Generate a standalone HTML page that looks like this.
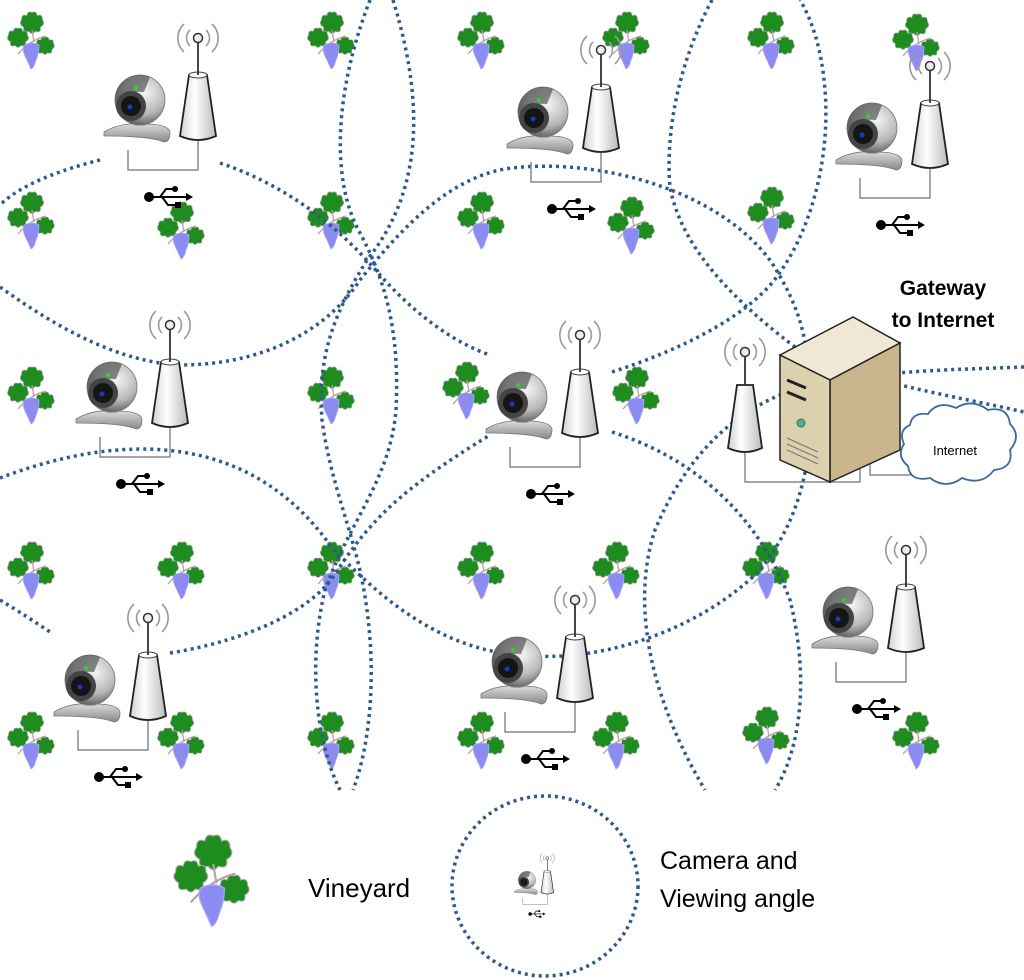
<!DOCTYPE html>
<html><head><meta charset="utf-8"><style>
html,body{margin:0;padding:0;background:#fff;}
svg{display:block;}
</style></head><body>
<svg width="1024" height="980" viewBox="0 0 1024 980" xmlns="http://www.w3.org/2000/svg">
<defs>
<radialGradient id="ball" cx="0.6" cy="0.35" r="0.7"><stop offset="0" stop-color="#f4f4f4"/><stop offset="0.6" stop-color="#b8b8b8"/><stop offset="1" stop-color="#555"/></radialGradient>
<linearGradient id="tow" x1="0" x2="1"><stop offset="0" stop-color="#d0d0d0"/><stop offset="0.4" stop-color="#fff"/><stop offset="1" stop-color="#bbb"/></linearGradient>
<linearGradient id="base" x1="0" x2="0" y1="0" y2="1"><stop offset="0" stop-color="#ddd"/><stop offset="1" stop-color="#888"/></linearGradient>
<path id="leaf" d="M0,-10 Q4,-12 5,-7 Q10,-9 10,-3 Q13,1 8,4 Q9,10 3,8 Q0,12 -3,8 Q-9,10 -8,4 Q-13,1 -10,-3 Q-10,-9 -5,-7 Q-4,-12 0,-10z" fill="#1e8c1e" stroke="#aaa" stroke-width="0.7"/>
<g id="vine">
<use href="#leaf" transform="translate(2,-17) scale(1.05)"/>
<use href="#leaf" transform="translate(-12,-2) scale(0.95)"/>
<use href="#leaf" transform="translate(15,6) scale(0.85)"/>
<path d="M-12,14 Q0,0 16,-4 M2,-10 L4,2" stroke="#b9a0a0" stroke-width="1.3" fill="none"/>
<path d="M-6,5 Q2,1 9,5 Q9,14 6,20 Q4,28 1,29 Q-2,22 -5,16 Q-8,9 -6,5z" fill="#8c8cf0" stroke="#a8a8ff" stroke-width="0.8"/>
</g>
<g id="node">
<path d="M-36,32 Q-20,22 5,24 Q28,24 30,32 Q30,42 24,42 Q10,36 -36,36z" fill="url(#base)" stroke="#777" stroke-width="0.8"/>
<rect x="-6" y="20" width="12" height="6" fill="#bbb"/>
<circle cx="0" cy="0" r="25" fill="url(#ball)" stroke="#777" stroke-width="0.8"/>
<path d="M-25,-2 A25,25 0 0 1 10,-23 L4,-8 Q-12,-10 -25,2z" fill="#555" opacity="0.7"/>
<circle cx="-9" cy="6" r="15" fill="#444"/><circle cx="-9" cy="6" r="10" fill="#151515"/><circle cx="-10" cy="7" r="2.5" fill="#1838c8"/>
<circle cx="-4" cy="-12" r="2" fill="#2d2"/>
<path d="M-12,50 V70 H58 V40" fill="none" stroke="#888" stroke-width="1.5"/>
<path d="M49,-25 L67,-25 L76,36 Q58,44 40,36z" fill="url(#tow)" stroke="#222" stroke-width="1.8"/>
<ellipse cx="58" cy="-25" rx="9" ry="3" fill="#fff" stroke="#444" stroke-width="1"/>
<line x1="58" y1="-25" x2="58" y2="-58" stroke="#333" stroke-width="1.8"/>
<circle cx="58" cy="-62" r="4.5" fill="#eee" stroke="#333" stroke-width="1.5"/>
<path d="M50,-70 A11,11 0 0 0 50,-54 M66,-70 A11,11 0 0 1 66,-54 M44,-76 A19,19 0 0 0 44,-48 M72,-76 A19,19 0 0 1 72,-48" fill="none" stroke="#999" stroke-width="1.6"/>
<g transform="translate(30,97)">
<circle cx="-21" cy="0" r="5" fill="#000"/>
<path d="M-21,0 H18 M-10,0 L-4,-8 H4 M-8,0 L-2,8 H6" fill="none" stroke="#000" stroke-width="2"/>
<path d="M16,-4 L23,0 L16,4z" fill="#000"/>
<circle cx="5" cy="-8" r="3" fill="#000"/><rect x="5" y="5" width="6" height="6" fill="#000"/>
</g>
</g>
</defs>

<g>
<use href="#vine" x="30" y="40"/><use href="#vine" x="330" y="40"/><use href="#vine" x="480" y="40"/><use href="#vine" x="770" y="40"/>
<use href="#vine" x="30" y="220"/><use href="#vine" x="180" y="230"/><use href="#vine" x="330" y="220"/><use href="#vine" x="480" y="220"/><use href="#vine" x="630" y="225"/><use href="#vine" x="770" y="215"/>
<use href="#vine" x="30" y="395"/><use href="#vine" x="330" y="395"/><use href="#vine" x="465" y="390"/><use href="#vine" x="635" y="395"/>
<use href="#vine" x="30" y="570"/><use href="#vine" x="180" y="570"/><use href="#vine" x="330" y="570"/><use href="#vine" x="480" y="570"/><use href="#vine" x="615" y="570"/><use href="#vine" x="765" y="570"/>
<use href="#vine" x="30" y="740"/><use href="#vine" x="180" y="740"/><use href="#vine" x="330" y="740"/><use href="#vine" x="480" y="740"/><use href="#vine" x="615" y="740"/><use href="#vine" x="765" y="735"/><use href="#vine" x="915" y="740"/>
<use href="#vine" x="625" y="40"/><use href="#vine" x="915" y="42"/>
<use href="#vine" transform="translate(210,880) scale(1.6)"/>
</g>

<g fill="none" stroke="#2b5a8f" stroke-width="3.5" stroke-dasharray="3 4">
<path d="M100,160 C60,170 20,185 0,205"/>
<path d="M0,287 C60,330 120,362 180,365 C250,365 320,340 360,280 C400,230 450,175 512,168 C600,158 720,190 772,263 C795,300 808,330 810,390"/>
<path d="M0,478 C100,440 240,420 330,545 C390,610 450,650 520,655 C600,664 700,630 760,570 C800,520 814,460 810,390"/>
<path d="M220,163 C300,190 350,240 380,275 C420,320 460,345 490,355"/>
<path d="M612,432 C700,460 760,520 790,600 C810,680 800,750 775,790"/>
<path d="M393,0 C430,120 415,200 367,260 C330,320 318,360 322,420 C330,480 352,530 362,580 C378,660 372,740 353,790"/>
<path d="M370,0 C335,90 330,180 360,233 C385,280 400,330 396,410 C390,480 350,520 325,590 C308,660 315,740 340,790"/>
<path d="M170,653 C250,640 310,610 333,577 C370,520 400,490 490,435"/>
<path d="M612,372 C680,350 740,320 772,283 C815,230 830,150 825,90 C822,50 812,20 800,0"/>
<path d="M712,0 C680,60 665,130 670,187 C680,240 720,290 795,347 C850,380 950,395 1024,412"/>
<path d="M1024,367 C950,370 850,370 780,395 C720,420 680,470 655,530 C635,590 640,680 705,790"/>
<path d="M0,600 C20,612 35,622 50,632"/>
<ellipse cx="545" cy="886" rx="93" ry="90"/>
</g>

<use href="#node" x="140" y="100"/>
<use href="#node" x="543" y="112"/>
<use href="#node" x="872" y="128"/>
<use href="#node" x="112" y="387"/>
<use href="#node" x="522" y="397"/>
<use href="#node" x="90" y="680"/>
<use href="#node" x="517" y="662"/>
<use href="#node" x="848" y="612"/>
<use href="#node" transform="translate(527,880) scale(0.35)"/>

<g>
<path d="M745,452 V482 H860 V462 M870,460 V475 H930" fill="none" stroke="#888" stroke-width="1.5"/>
<path d="M737,385 L753,385 L762,448 Q745,456 728,448z" fill="url(#tow)" stroke="#222" stroke-width="1.8"/>
<line x1="745" y1="385" x2="745" y2="356" stroke="#333" stroke-width="1.8"/>
<circle cx="745" cy="352" r="4.5" fill="#eee" stroke="#333" stroke-width="1.5"/>
<path d="M737,344 A11,11 0 0 0 737,360 M753,344 A11,11 0 0 1 753,360 M731,338 A19,19 0 0 0 731,366 M759,338 A19,19 0 0 1 759,366" fill="none" stroke="#999" stroke-width="1.6"/>
<path d="M780,355 L853,317 L900,343 L830,380z" fill="#f0e8d4" stroke="#222" stroke-width="1.5"/>
<path d="M830,380 L900,343 L900,450 L830,482z" fill="#c9b68c" stroke="#222" stroke-width="1.5"/>
<path d="M780,355 L830,380 L830,482 L780,460z" fill="#ddd0ae" stroke="#222" stroke-width="1.5"/>
<path d="M787,380 L806,388 M787,392 L806,400" stroke="#222" stroke-width="3"/>
<circle cx="801" cy="423" r="4" fill="#5a9" stroke="#374" stroke-width="1"/>
<path d="M787,438 L818,452 M787,444 L818,458 M787,450 L818,464" stroke="#777" stroke-width="1"/>
<path d="M910,425 Q912,412 928,414 Q938,400 956,408 Q972,398 988,410 Q1008,406 1010,424 Q1022,436 1010,450 Q1014,468 994,470 Q982,486 962,478 Q946,490 930,478 Q910,482 908,466 Q896,456 904,444 Q898,430 910,425z" fill="#fff" stroke="#3a6aa0" stroke-width="1.8"/>
</g>

<g font-family="Liberation Sans, sans-serif" fill="#000">
<text x="943" y="295" font-size="21" font-weight="bold" text-anchor="middle">Gateway</text>
<text x="943" y="327" font-size="21" font-weight="bold" text-anchor="middle">to Internet</text>
<text x="955" y="455" font-size="13" text-anchor="middle">Internet</text>
<text x="308" y="897" font-size="26">Vineyard</text>
<text x="660" y="869" font-size="25">Camera and</text>
<text x="660" y="907" font-size="25">Viewing angle</text>
</g>
</svg>
</body></html>
